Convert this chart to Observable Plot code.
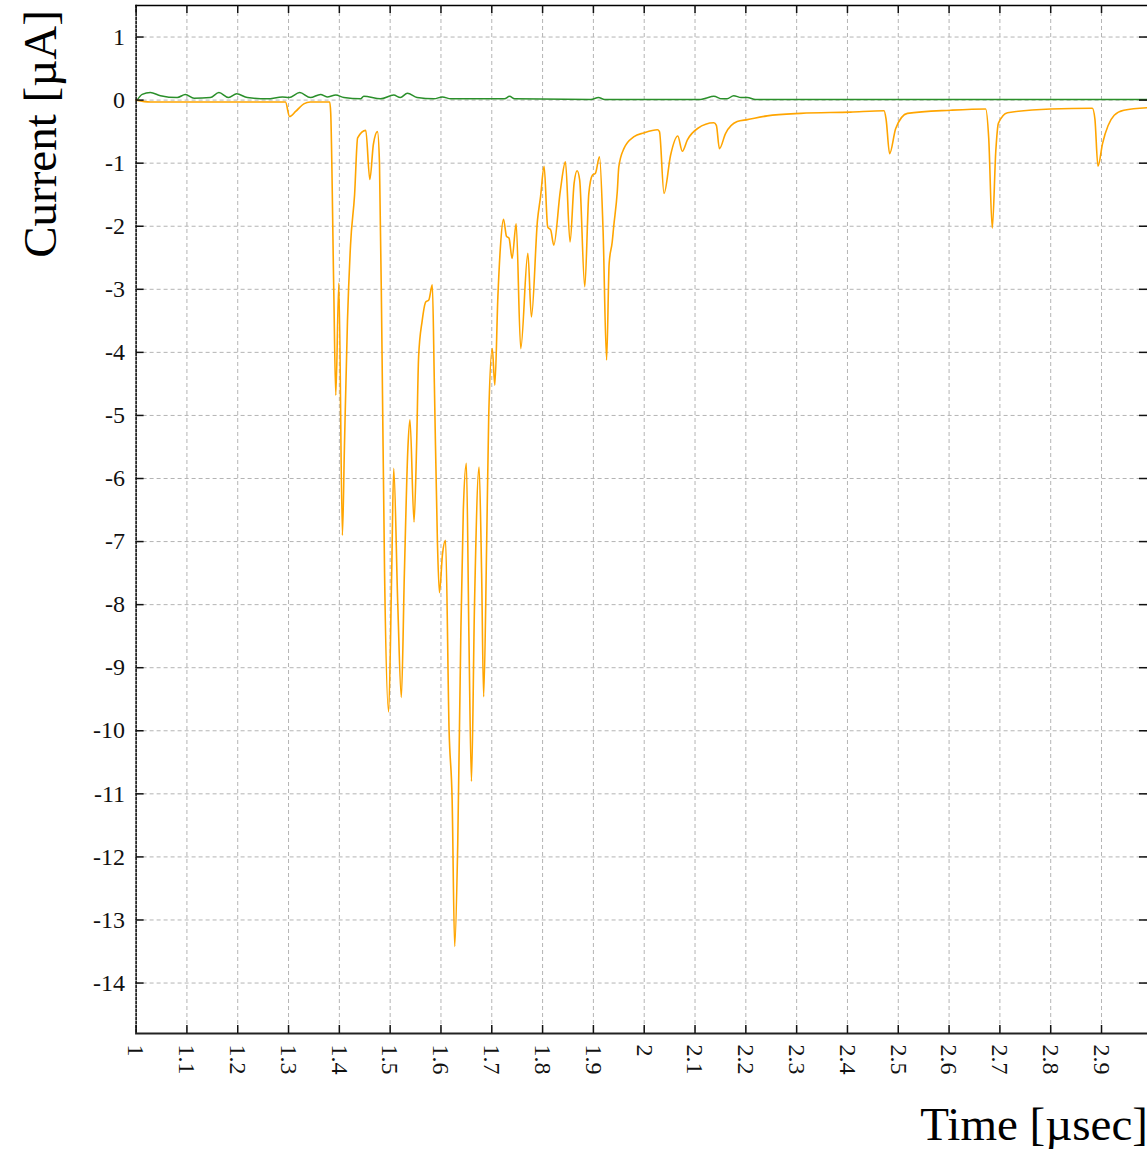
<!DOCTYPE html>
<html>
<head>
<meta charset="utf-8">
<script src="https://cdn.jsdelivr.net/npm/d3@7"></script>
<script src="https://cdn.jsdelivr.net/npm/@observablehq/plot@0.6"></script>
<style>
  html, body { margin: 0; padding: 0; background: #fff; }
  #chart { position: relative; width: 1147px; height: 1149px; overflow: hidden; }
</style>
</head>
<body>
<div id="chart"></div>
<script>
// Orange trace: time [µs] and current [µA]
const timeOrange = [1.000,1.028,1.294,1.302,1.314,1.330,1.343,1.381,1.383,1.389,1.393,1.399,1.406,1.410,1.416,1.422,1.430,1.436,1.452,1.460,1.467,1.475,1.479,1.484,1.489,1.497,1.503,1.507,1.515,1.522,1.528,1.535,1.539,1.547,1.552,1.556,1.563,1.570,1.576,1.583,1.587,1.593,1.597,1.603,1.609,1.616,1.622,1.627,1.633,1.639,1.644,1.650,1.655,1.660,1.666,1.675,1.680,1.684,1.690,1.694,1.701,1.706,1.712,1.717,1.723,1.729,1.734,1.740,1.748,1.757,1.771,1.778,1.790,1.796,1.803,1.810,1.816,1.822,1.835,1.845,1.854,1.862,1.868,1.873,1.883,1.891,1.898,1.904,1.912,1.919,1.926,1.931,1.937,1.940,1.947,1.950,1.960,1.980,1.999,2.026,2.030,2.039,2.052,2.066,2.075,2.085,2.105,2.137,2.142,2.148,2.160,2.183,2.203,2.242,2.308,2.406,2.472,2.476,2.483,2.495,2.518,2.603,2.672,2.678,2.685,2.692,2.697,2.715,2.800,2.882,2.887,2.893,2.902,2.925,2.944,2.990];
const currentOrange = [0,-0.03,-0.03,-0.26,-0.18,-0.06,-0.03,-0.03,-0.2,-3.0,-4.68,-2.9,-6.9,-5.5,-3.5,-2.3,-1.5,-0.6,-0.48,-1.26,-0.7,-0.5,-1.0,-4.0,-7.5,-9.7,-7.5,-5.84,-8.0,-9.47,-7.5,-5.5,-5.07,-6.69,-5.5,-4.07,-3.5,-3.2,-3.17,-2.93,-4.5,-7.0,-7.81,-7.2,-6.98,-10.0,-11.1,-13.42,-11.8,-8.5,-6.5,-5.76,-8.5,-10.8,-8.0,-5.82,-7.5,-9.46,-7.0,-5.0,-3.94,-4.52,-3.12,-2.33,-1.89,-2.16,-2.19,-2.51,-1.96,-3.94,-2.43,-3.44,-1.9,-1.53,-1.05,-2.01,-2.06,-2.3,-1.43,-0.98,-2.25,-1.32,-1.12,-1.27,-2.96,-1.48,-1.19,-1.16,-0.9,-2.06,-4.12,-2.59,-2.25,-2.0,-1.45,-1.06,-0.77,-0.58,-0.52,-0.47,-0.5,-1.48,-0.87,-0.57,-0.81,-0.63,-0.45,-0.36,-0.4,-0.77,-0.53,-0.34,-0.31,-0.25,-0.21,-0.19,-0.17,-0.3,-0.85,-0.45,-0.21,-0.16,-0.14,-0.6,-2.03,-0.8,-0.37,-0.2,-0.14,-0.13,-0.3,-1.05,-0.69,-0.24,-0.16,-0.12];

// Green trace
const timeGreen = [1.002,1.012,1.028,1.048,1.081,1.097,1.114,1.146,1.163,1.182,1.198,1.219,1.258,1.288,1.301,1.322,1.343,1.363,1.376,1.393,1.409,1.442,1.448,1.481,1.507,1.520,1.534,1.553,1.586,1.603,1.619,1.711,1.725,1.735,1.745,1.895,1.910,1.922,2.111,2.121,2.137,2.153,2.163,2.176,2.191,2.203,2.219,2.990];
const currentGreen = [0,0.09,0.12,0.07,0.04,0.09,0.03,0.04,0.12,0.04,0.10,0.04,0.02,0.05,0.04,0.12,0.04,0.09,0.05,0.08,0.04,0.02,0.06,0.02,0.08,0.04,0.11,0.04,0.02,0.05,0.02,0.02,0.02,0.06,0.02,0.01,0.04,0.01,0.01,0.03,0.06,0.02,0.02,0.07,0.04,0.04,0.01,0.01];

const xTicks = [1,1.1,1.2,1.3,1.4,1.5,1.6,1.7,1.8,1.9,2,2.1,2.2,2.3,2.4,2.5,2.6,2.7,2.8,2.9];
const yTicks = [1,0,-1,-2,-3,-4,-5,-6,-7,-8,-9,-10,-11,-12,-13,-14];
const xGrid = xTicks.slice(1);

const orange = timeOrange.map((t, i) => ({t, v: currentOrange[i]}));
const green = timeGreen.map((t, i) => ({t, v: currentGreen[i]}));

const W = 1147, H = 1149, mL = 135.6, mR = 0, mT = 5, mB = 116;
const plotW = W - mL - mR, plotH = H - mT - mB;
const tick = 8;
const serif = "'Liberation Serif', 'Times New Roman', Times, serif";

const chart = Plot.plot({
  width: W,
  height: H,
  marginLeft: mL,
  marginRight: mR,
  marginTop: mT,
  marginBottom: mB,
  style: {fontFamily: serif, background: "#fff", overflow: "visible"},
  x: {domain: [1, 2.9905], axis: null},
  y: {domain: [-14.8, 1.5], axis: null},
  marks: [
    Plot.gridX(xGrid, {stroke: "#b4b4b4", strokeOpacity: 1, strokeDasharray: "4,3"}),
    Plot.gridY(yTicks, {stroke: "#b4b4b4", strokeOpacity: 1, strokeDasharray: "4,3"}),
    Plot.line(green, {x: "t", y: "v", stroke: "#2a8f2a", strokeWidth: 1.5, curve: "monotone-x"}),
    Plot.line(orange, {x: "t", y: "v", stroke: "#ffa500", strokeWidth: 1.6, curve: "monotone-x"}),
    // frame
    Plot.frame({anchor: "top", stroke: "#000", strokeWidth: 1.5}),
    Plot.frame({anchor: "bottom", stroke: "#222", strokeWidth: 2}),
    Plot.frame({anchor: "left", stroke: "#000", strokeWidth: 1.5, strokeDasharray: "2,2"}),
    // inward ticks
    Plot.tickX(xTicks, {x: d => d, insetTop: plotH - tick, stroke: "#111", strokeWidth: 1.5}),
    Plot.tickX(xTicks, {x: d => d, insetBottom: plotH - tick, stroke: "#111", strokeWidth: 1.5}),
    Plot.tickY(yTicks, {y: d => d, insetRight: plotW - tick, stroke: "#111", strokeWidth: 1.5}),
    Plot.tickY(yTicks, {y: d => d, insetLeft: plotW - tick, stroke: "#111", strokeWidth: 1.5}),
    // tick labels
    Plot.text(xTicks, {x: d => d, frameAnchor: "bottom", dy: 11, rotate: 90, textAnchor: "start", lineAnchor: "middle", text: d => String(d), fontSize: 24, fill: "#111"}),
    Plot.text(yTicks, {y: d => d, frameAnchor: "left", dx: -11, textAnchor: "end", lineAnchor: "middle", text: d => String(d), fontSize: 24, fill: "#111"})
  ]
});

const svg = d3.select(chart);
svg.append("text")
  .attr("transform", "translate(56,134) rotate(-90)")
  .attr("text-anchor", "middle")
  .attr("font-family", serif)
  .attr("font-size", 47)
  .attr("fill", "#000")
  .text("Current [µA]");
svg.append("text")
  .attr("x", 1148)
  .attr("y", 1140)
  .attr("text-anchor", "end")
  .attr("font-family", serif)
  .attr("font-size", 47)
  .attr("fill", "#000")
  .text("Time [µsec]");

document.getElementById("chart").appendChild(chart);
</script>
</body>
</html>
